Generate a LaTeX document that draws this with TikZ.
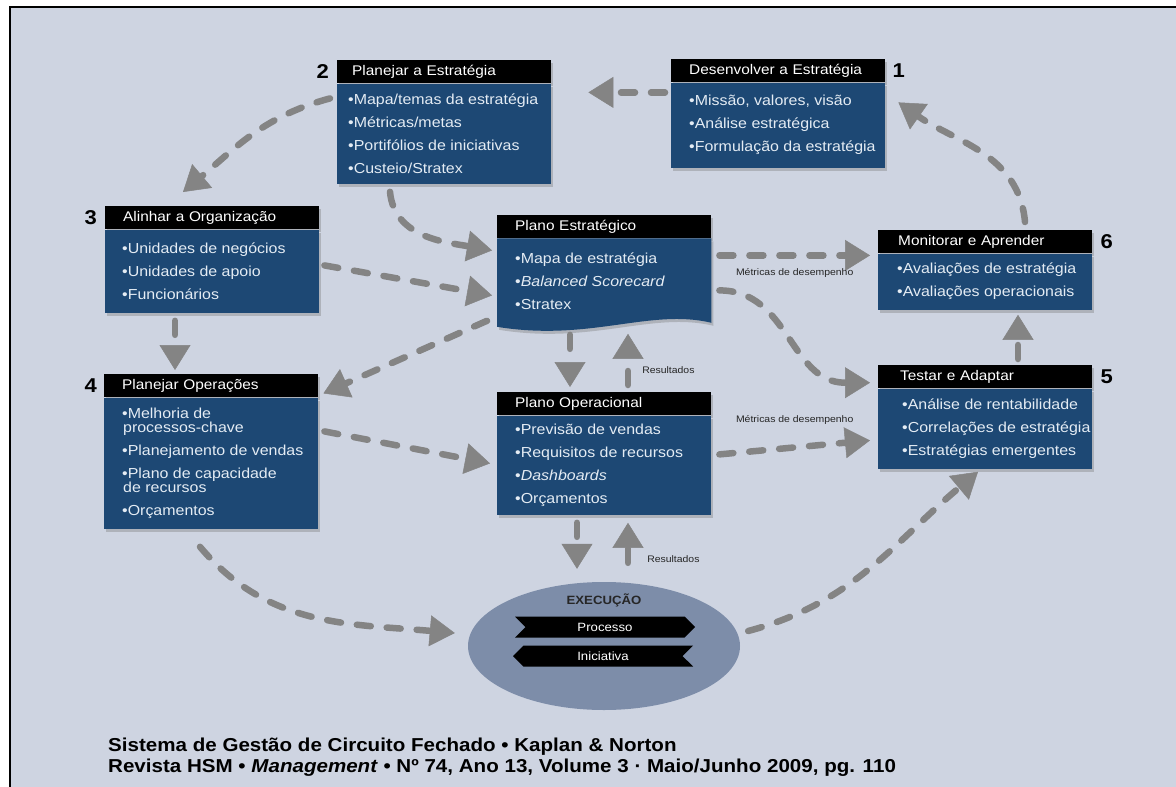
\documentclass[tikz,border=0pt]{standalone}
\usepackage{fontspec}
\setmainfont{Liberation Sans}[FakeStretch=1.1]
\usetikzlibrary{positioning,arrows.meta,shadows,shapes.geometric,shapes.symbols}

\definecolor{fundo}{HTML}{CED4E1}
\definecolor{azul}{HTML}{1D4874}
\definecolor{cinza}{HTML}{848484}
\definecolor{elipse}{HTML}{7D8DA9}
\definecolor{textoazul}{HTML}{E4ECF4}

\begin{document}
\begin{tikzpicture}[x=1pt, y=1pt, node distance=0pt]
	\tikzset{sombra/.style={drop shadow={shadow xshift=2pt, shadow yshift=-3pt, opacity=.4}},
	cabec/.style={fill=black, text=white, anchor=north west, minimum width=214pt, minimum height=23pt, inner ysep=0pt, inner xsep=18pt, text width=178pt, align=left, font={\fontsize{14}{16}\selectfont}, sombra},
	corpo/.style={fill=azul, minimum width=214pt, inner sep=0pt, sombra},
	itens/.style={text=textoazul, align=left, inner sep=0pt, font={\fontsize{14.5}{14}\selectfont\lineskiplimit=-10pt}},
	seta/.style={draw=cinza, line width=6.5pt, line cap=round, dash pattern=on 14pt off 16pt, -{Triangle[width=31pt, length=25pt, line width=0.5pt]}},
	numero/.style={font={\fontsize{20}{20}\selectfont\bfseries}, inner sep=0pt},
	rotulo/.style={font={\fontsize{9.5}{11}\selectfont}, text=black!85, inner sep=0pt},
	faixa/.style={signal, fill=black, text=white, minimum width=180pt, minimum height=21pt, inner sep=0pt, font={\fontsize{12}{13}\selectfont}}}

	\useasboundingbox (0,0) rectangle (1176,-787);
	\fill[fundo] (10,-7) rectangle (1176,-787);
	\draw[line width=2.5pt] (10,-787) -- (10,-7) -- (1176,-7);

	% 1
	\node[cabec] (dev-t) at (671,-59) {Desenvolver a Estratégia};
	\node[corpo, minimum height=85pt, below=of dev-t] (dev) {};
	\node[itens, right=18pt of dev.west] (dev-i) {•Missão, valores, visão\\[9pt]•Análise estratégica\\[9pt]•Formulação da estratégia};
	\node[numero, right=7pt of dev-t] (n1) {1};

	% 2
	\node[cabec, inner xsep=15pt, text width=184pt] (plan-t) at (337,-60) {Planejar a Estratégia};
	\node[corpo, minimum height=100pt, below=of plan-t] (plan) {};
	\node[itens, right=11pt of plan.west] (plan-i) {•Mapa/temas da estratégia\\[9pt]•Métricas/metas\\[9pt]•Portifólios de iniciativas\\[9pt]•Custeio/Stratex};
	\node[numero, left=8pt of plan-t] (n2) {2};

	% 3
	\node[cabec] (alin-t) at (105,-206) {Alinhar a Organização};
	\node[corpo, minimum height=83pt, below=of alin-t] (alin) {};
	\node[itens, right=17pt of alin.west] (alin-i) {•Unidades de negócios\\[9pt]•Unidades de apoio\\[9pt]•Funcionários};
	\node[numero, left=8pt of alin-t] (n3) {3};

	% 4
	\node[cabec] (ope-t) at (104,-374) {Planejar Operações};
	\node[corpo, minimum height=131pt, below=of ope-t] (ope) {};
	\node[itens, right=18pt of ope.west] (ope-i) {•Melhoria de\\\hspace{1pt}processos-chave\\[9pt]•Planejamento de vendas\\[9pt]•Plano de capacidade\\\hspace{1pt}de recursos\\[9pt]•Orçamentos};
	\node[numero, left=7pt of ope-t] (n4) {4};

	% 5
	\node[cabec, inner xsep=22pt, text width=170pt] (tes-t) at (878,-365) {Testar e Adaptar};
	\node[corpo, minimum height=80pt, below=of tes-t] (tes) {};
	\node[itens, right=24pt of tes.west] (tes-i) {•Análise de rentabilidade\\[9pt]•Correlações de estratégia\\[9pt]•Estratégias emergentes};
	\node[numero, right=8pt of tes-t] (n5) {5};

	% 6
	\node[cabec, inner xsep=20pt, text width=174pt] (mon-t) at (878,-230) {Monitorar e Aprender};
	\node[corpo, minimum height=56pt, below=of mon-t] (mon) {};
	\node[itens, right=19pt of mon.west] (mon-i) {•Avaliações de estratégia\\[9pt]•Avaliações operacionais};
	\node[numero, right=8pt of mon-t] (n6) {6};

	% planos
	\node[cabec] (pe-t) at (497,-215) {Plano Estratégico};
	\node[minimum width=214pt, minimum height=86pt, inner sep=0pt, below=of pe-t] (pe) {};
	\fill[azul, sombra] (pe.north west) -- (pe.north east) -- ([yshift=2pt]pe.south east)
		.. controls (650,-308) and (590,-342) .. ([yshift=-2pt]pe.south west) -- cycle;
	\node[itens, right=18pt of pe.west] (pe-i) {•Mapa de estratégia\\[9pt]•\textit{Balanced Scorecard}\\[9pt]•Stratex};

	\node[cabec] (po-t) at (497,-392) {Plano Operacional};
	\node[corpo, minimum height=99pt, below=of po-t] (po) {};
	\node[itens, right=18pt of po.west] (po-i) {•Previsão de vendas\\[9pt]•Requisitos de recursos\\[9pt]•\textit{Dashboards}\\[9pt]•Orçamentos};

	% execucao
	\node[ellipse, fill=elipse, minimum width=272pt, minimum height=128pt] (exec) at (604,-646) {};
	\node[font={\fontsize{12}{13}\selectfont\bfseries}, text=black!85] (exec-t) at (604,-600) {EXECUÇÃO};
	\node[faixa, signal to=east, signal from=west] (proc) at (605,-627) {Processo};
	\node[faixa, signal to=west, signal from=east] (inic) at (603,-656) {Iniciativa};

	% setas
	\draw[seta] ([shift={(-6,-10)}]dev.north west) -- ([shift={(37,-9)}]plan.north east);
	\draw[seta] ([shift={(-7,-15)}]plan.north west) to[out=195, in=40] ([shift={(78,14)}]alin-t.north west);
	\draw[seta] ([shift={(53,-8)}]plan.south west) to[out=-85, in=170] ([shift={(-5,-12)}]pe.north west);
	\draw[seta] ([shift={(5,-36)}]alin.north east) -- ([shift={(-5,-57)}]pe.north west);
	\draw[seta] ([shift={(70,-8)}]alin.south west) -- ([shift={(71,4)}]ope-t.north west);
	\draw[seta] ([shift={(-10,4)}]pe.south west) -- ([shift={(5,4)}]ope-t.south east);
	\draw[seta] ([shift={(8,-17)}]pe-t.south east) -- node[rotulo, below=10pt] (met1) {Métricas de desempenho} ([shift={(-8,-2)}]mon.north west);
	\draw[seta] ([shift={(8,-52)}]pe.north east) .. controls +(70,0) and +(-80,0) .. ([shift={(-8,-6)}]tes-t.west);
	\draw[seta] ([shift={(73,-10)}]pe.south west) -- ([shift={(73,5)}]po-t.north west);
	\draw[seta] ([shift={(131,7)}]po-t.north west) -- node[rotulo, pos=0.3, right=11pt] (res1) {Resultados} ([shift={(131,-9)}]pe.south west);
	\draw[seta] ([shift={(6,-34)}]ope.north east) -- ([shift={(-7,-48)}]po.north west);
	\draw[seta] ([shift={(8,-39)}]po.north east) -- node[rotulo, above=20pt] (met2) {Métricas de desempenho} ([shift={(-8,-52)}]tes.north west);
	\draw[seta] ([shift={(140,6)}]tes-t.north west) -- ([shift={(140,-5)}]mon.south west);
	\draw[seta] ([shift={(147,8)}]mon-t.north west) to[out=95, in=-35] ([shift={(13,-20)}]dev.north east);
	\draw[seta] ([shift={(80,-8)}]po.south west) -- ([shift={(-27,13)}]exec.north);
	\draw[seta] ([shift={(24,19)}]exec.north) -- node[rotulo, pos=0.1, right=16pt] (res2) {Resultados} ([shift={(131,-8)}]po.south west);
	\draw[seta] ([shift={(96,-18)}]ope.south west) to[out=-50, in=175] ([shift={(-13,13)}]exec.west);
	\draw[seta] ([shift={(8,15)}]exec.east) to[out=15, in=-140] ([shift={(100,-3)}]tes.south west);

	% legenda
	\node[anchor=west, inner sep=0pt, font={\fontsize{18.7}{21}\selectfont\bfseries}] (leg1) at (108,-747) {Sistema de Gestão de Circuito Fechado • Kaplan \& Norton};
	\node[anchor=west, inner sep=0pt, font={\fontsize{18.7}{21}\selectfont\bfseries}] (leg2) at (108,-768) {Revista HSM • \textit{Management} • Nº 74, Ano 13, Volume 3 · Maio/Junho 2009, pg. 110};
\end{tikzpicture}
\end{document}
